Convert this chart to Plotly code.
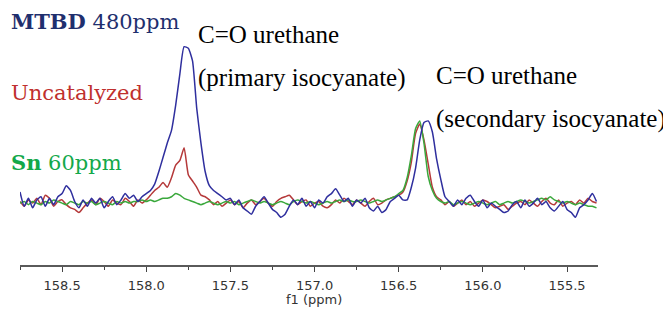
import numpy as np
import plotly.graph_objects as go

# chemical-shift grid (ppm), sampled every 0.025 ppm from 158.75 down to 155.325
ppm_start = 158.75
ppm_step = 0.025
n_points = 138
ppm = np.round(ppm_start - ppm_step * np.arange(n_points), 4)

# intensities (arbitrary units, baseline = 0, tallest peak = 100)
mtbd_480 = [
    7, -2, 3, -3, 2, 4, -2, 3, -1, 4,
    6, 11, 8, 1, -3, 2, -2, 3, 0, 3,
    -3, 1, 4, -1, 2, 6, 3, 5, 1, 4,
    6, 8, 12, 20, 29, 38, 46, 62, 82, 99,
    98, 90, 60, 38, 20, 11, 8, 6, 4, 2,
    3, -1, 2, -3, -5, -7, -2, 1, 4, 0,
    -4, -6, -9, -7, -2, 2, -1, 3, -2, 1,
    -3, 2, 0, 4, 6, 9, 5, 1, 3, -2,
    2, 0, 3, -3, -5, -2, -6, -4, 1, 3,
    5, 2, 2, 10, 22, 40, 51, 52, 45, 28,
    15, 4, 1, -2, 2, -1, 3, 5, 1, -2,
    2, -3, 0, -2, -4, -6, -5, -1, 1, -3,
    2, -2, 0, 3, -1, 1, -3, -5, -2, 1,
    -4, -6, -9, -3, -1, 2, 6, 1,
]
uncatalyzed = [
    1, -2, 2, 0, 3, -1, 5, 3, -2, 1,
    2, -1, -3, -4, -6, -3, 0, 2, -1, 3,
    1, -2, 2, 0, -1, 3, 1, -2, 2, 0,
    2, 5, 8, 10, 13, 10, 16, 24, 27, 35,
    18, 14, 10, 5, 4, 2, -1, 1, -2, 0,
    2, -1, 1, -3, 0, 2, -1, 1, 3, 0,
    -2, 1, 3, 4, 5, 2, -1, 1, 2, -2,
    0, 1, -2, -3, -1, 2, 0, 3, 1, -1,
    2, 0, -2, 1, 3, -1, 0, 2, 3, 4,
    5, 7, 14, 26, 44, 50, 40, 25, 10, 4,
    2, -1, 1, -2, 0, 2, -1, 1, -2, 0,
    2, 1, -1, -3, -2, -1, -4, -2, 0, 1,
    -1, 2, 0, -2, 1, 3, 0, -1, 2, -2,
    0, 1, -1, 2, 0, 3, 1, 0,
]
sn_60 = [
    0, 1, -1, 1, 0, -1, 1, 0, 2, 1,
    0, -1, 1, 0, -1, 1, 0, 1, -1, 0,
    1, 0, -1, 1, 0, 1, 0, 1, 1, 2,
    1, 2, 1, 2, 3, 3, 4, 6, 5, 3,
    2, 1, 0, -1, 0, 1, 0, -1, 0, 1,
    0, 1, -1, 0, 1, 2, 1, 0, 1, 0,
    -1, 0, 1, 0, -1, 1, 2, 1, 0, 1,
    0, -1, 0, 1, 0, 1, 2, 1, 2, 1,
    1, 2, 1, 0, 1, 2, 1, 2, 3, 4,
    6, 8, 16, 30, 47, 52, 38, 17, 8, 3,
    1, 0, 1, -1, 0, 1, 0, -1, 0, 1,
    0, -1, 0, 1, -1, 0, 1, 0, 1, 2,
    1, 0, 1, 2, 3, 2, 4, 2, 1, 0,
    1, 0, -1, 0, -1, -2, -2, -3,
]

tick_vals = [158.5, 158.0, 157.5, 157.0, 156.5, 156.0, 155.5]
tick_text = ["158.5", "158.0", "157.5", "157.0", "156.5", "156.0", "155.5"]
x_range = [158.75, 155.316]
y_range = [-39.2, 123.5]

LINE_W = 1.5
fig = go.Figure()
fig.add_trace(go.Scatter(x=ppm, y=uncatalyzed, mode="lines",
                         line=dict(color="#b5393a", width=LINE_W, shape="spline", smoothing=0.5),
                         name="Uncatalyzed"))
fig.add_trace(go.Scatter(x=ppm, y=sn_60, mode="lines",
                         line=dict(color="#3aa83c", width=LINE_W, shape="spline", smoothing=0.5),
                         name="Sn 60ppm"))
fig.add_trace(go.Scatter(x=ppm, y=mtbd_480, mode="lines",
                         line=dict(color="#2f2f9e", width=LINE_W, shape="spline", smoothing=0.5),
                         name="MTBD 480ppm"))

# page body has an 8px margin, so the figure is sized to fit the 671x310 window
W, H = 663, 302
fig.update_layout(
    width=W, height=H,
    margin=dict(l=12, r=73, t=0, b=45),
    paper_bgcolor="white", plot_bgcolor="white",
    showlegend=False,
    xaxis=dict(
        range=x_range, tickvals=tick_vals, ticktext=tick_text,
        showline=True, linecolor="#5a5a5a", linewidth=2,
        ticks="outside", ticklen=5, tickcolor="#444", tickwidth=1,
        minor=dict(dtick=0.25, tick0=158.75, ticks="outside", ticklen=3, tickcolor="#444"),
        showgrid=False, zeroline=False,
        tickfont=dict(family="DejaVu Sans", size=13, color="#333"),
        ticklabelstandoff=2,
    ),
    yaxis=dict(range=y_range, visible=False, showgrid=False, zeroline=False),
)

serif_times = "Liberation Serif"
serif_legend = "DejaVu Serif"

PW, PH = 578.0, 257.0
def px(xpix):  # window pixel -> paper fraction
    return (xpix - 20) / PW
def py(ypix):
    return (265 - ypix) / PH

def ann(text, xp, yp, color, family, size, anchor="left", yanchor="middle"):
    fig.add_annotation(text=text, x=xp, y=yp, xref="paper", yref="paper",
                       xanchor=anchor, yanchor=yanchor, showarrow=False, borderpad=0,
                       font=dict(family=family, size=size, color=color))

ann("<b>MTBD</b> 480ppm", px(10), 1.0, "#1f2f6e", serif_legend, 21, yanchor="top")
ann("Uncatalyzed", px(10), py(93), "#c0302e", serif_legend, 21)
ann("<b>Sn</b> 60ppm", px(10), py(162), "#13a84a", serif_legend, 21)

ann("C=O urethane", px(197), py(35), "black", serif_times, 25)
ann("(primary isocyanate)", px(197), py(78), "black", serif_times, 25)
ann("C=O urethane", px(435), py(76), "black", serif_times, 25)
ann("(secondary isocyanate)", px(435), py(119), "black", serif_times, 25)

ann("f1 (ppm)", px(314), py(299), "#333", "DejaVu Sans", 13, anchor="center")

fig.write_html("out.html")
